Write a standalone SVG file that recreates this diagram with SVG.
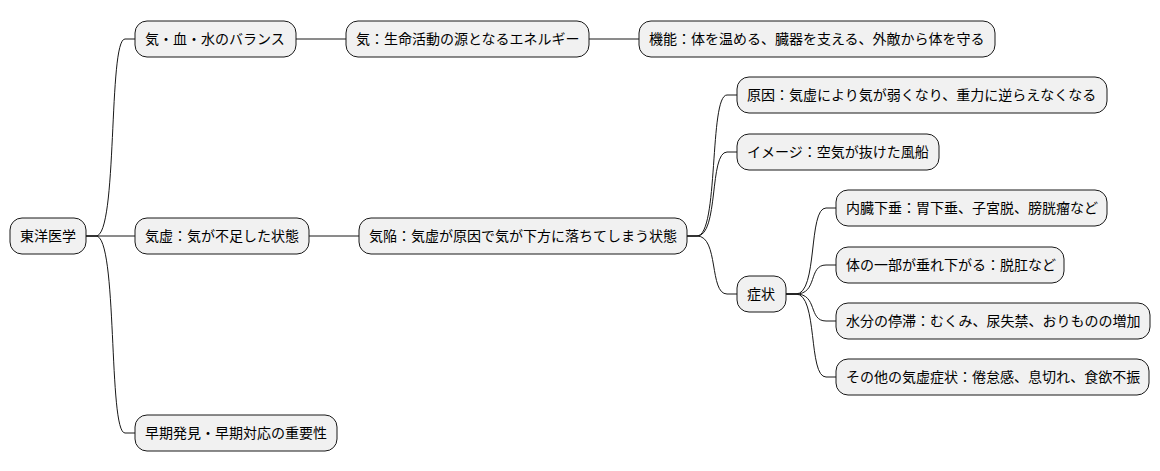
<svg xmlns="http://www.w3.org/2000/svg" width="1160" height="471" viewBox="0 0 1160 471">
<style>
.n rect{fill:#F1F1F1;stroke:#181818;stroke-width:1}
.n text{font-family:"Noto Sans CJK JP","Noto Sans",sans-serif;font-size:14px;fill:#000}
#c path{fill:none;stroke:#181818;stroke-width:1}
</style>
<rect width="1160" height="471" fill="#fff"/>
<g id="c">
<path d="M86,236 L96,236 C118,236 108,39 125,39 L135,39"/>
<path d="M86,236 L135,236"/>
<path d="M86,236 L96,236 C118,236 108,433 125,433 L135,433"/>
<path d="M296,39 L346,39"/>
<path d="M589,39 L639,39"/>
<path d="M309,236 L359,236"/>
<path d="M687,236 L697,236 C719,236 709,95 727,95 L737,95"/>
<path d="M687,236 L697,236 C719,236 709,152 727,152 L737,152"/>
<path d="M687,236 L697,236 C719,236 709,294 727,294 L737,294"/>
<path d="M786,294 L796,294 C818,294 808,208 826,208 L836,208"/>
<path d="M786,294 L796,294 C818,294 808,265 826,265 L836,265"/>
<path d="M786,294 L796,294 C818,294 808,321 826,321 L836,321"/>
<path d="M786,294 L796,294 C818,294 808,377 826,377 L836,377"/>
</g>
<g id="n1" class="n"><rect x="10" y="218" width="76" height="36" rx="12"/><text x="20" y="241">東洋医学</text></g>
<g id="n2" class="n"><rect x="135" y="21" width="161" height="36" rx="12"/><text x="145" y="44">気・血・水のバランス</text></g>
<g id="n3" class="n"><rect x="346" y="21" width="243" height="36" rx="12"/><text x="356" y="44">気：生命活動の源となるエネルギー</text></g>
<g id="n4" class="n"><rect x="639" y="21" width="356" height="36" rx="12"/><text x="649" y="44">機能：体を温める、臓器を支える、外敵から体を守る</text></g>
<g id="n5" class="n"><rect x="135" y="218" width="174" height="36" rx="12"/><text x="145" y="241">気虚：気が不足した状態</text></g>
<g id="n6" class="n"><rect x="359" y="218" width="328" height="36" rx="12"/><text x="369" y="241">気陥：気虚が原因で気が下方に落ちてしまう状態</text></g>
<g id="n7" class="n"><rect x="737" y="77" width="370" height="36" rx="12"/><text x="747" y="100">原因：気虚により気が弱くなり、重力に逆らえなくなる</text></g>
<g id="n8" class="n"><rect x="737" y="134" width="202" height="36" rx="12"/><text x="747" y="157">イメージ：空気が抜けた風船</text></g>
<g id="n9" class="n"><rect x="737" y="276" width="49" height="36" rx="12"/><text x="747" y="299">症状</text></g>
<g id="n10" class="n"><rect x="836" y="190" width="271" height="36" rx="12"/><text x="846" y="213">内臓下垂：胃下垂、子宮脱、膀胱瘤など</text></g>
<g id="n11" class="n"><rect x="836" y="247" width="228" height="36" rx="12"/><text x="846" y="270">体の一部が垂れ下がる：脱肛など</text></g>
<g id="n12" class="n"><rect x="836" y="303" width="314" height="36" rx="12"/><text x="846" y="326">水分の停滞：むくみ、尿失禁、おりものの増加</text></g>
<g id="n13" class="n"><rect x="836" y="359" width="313" height="36" rx="12"/><text x="846" y="382">その他の気虚症状：倦怠感、息切れ、食欲不振</text></g>
<g id="n14" class="n"><rect x="135" y="415" width="202" height="36" rx="12"/><text x="145" y="438">早期発見・早期対応の重要性</text></g>
</svg>
